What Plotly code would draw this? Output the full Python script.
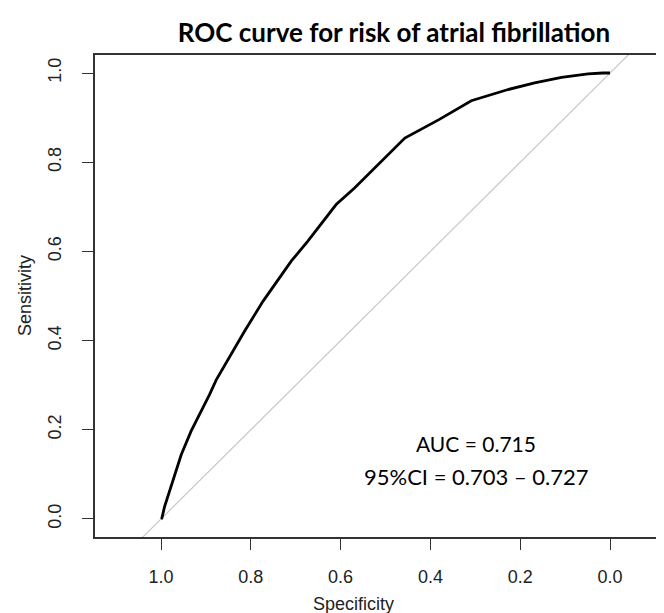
import plotly.graph_objects as go

# ROC curve points
specificity = [1.000, 0.998, 0.992, 0.977, 0.955, 0.933, 0.910, 0.892, 0.877, 0.851,
               0.814, 0.773, 0.747, 0.710, 0.673, 0.639, 0.610, 0.569, 0.524, 0.487,
               0.457, 0.380, 0.309, 0.227, 0.168, 0.108, 0.049, 0.016, 0.000]
sensitivity = [0.000, 0.002, 0.028, 0.077, 0.144, 0.197, 0.241, 0.279, 0.312, 0.357,
               0.421, 0.488, 0.525, 0.578, 0.623, 0.667, 0.705, 0.742, 0.787, 0.824,
               0.854, 0.896, 0.938, 0.963, 0.978, 0.990, 0.998, 1.000, 1.000]

# chance diagonal (sensitivity = 1 - specificity), clipped by the axes
diag_spec = [1.3, -0.3]
diag_sens = [-0.3, 1.3]

x_ticks = [1.0, 0.8, 0.6, 0.4, 0.2, 0.0]
x_ticktext = ["1.0", "0.8", "0.6", "0.4", "0.2", "0.0"]
y_ticks = [0.0, 0.2, 0.4, 0.6, 0.8, 1.0]
y_ticktext = ["0.0", "0.2", "0.4", "0.6", "0.8", "1.0"]

title_text = "ROC curve for risk of atrial fibrillation"
auc_text = "AUC = 0.715"
ci_text = "95%CI = 0.703 \u2013 0.727"

W, H = 664, 613
L, T, B = 87, 47, 84

fig = go.Figure()
fig.add_trace(go.Scatter(x=diag_spec, y=diag_sens, mode="lines",
                         line=dict(color="#c8c8c8", width=1.2),
                         hoverinfo="skip", showlegend=False))
fig.add_trace(go.Scatter(x=specificity, y=sensitivity, mode="lines",
                         line=dict(color="black", width=2.8),
                         showlegend=False))

axis_font = dict(family="Liberation Sans, Arial, sans-serif", size=18, color="#222")

fig.update_layout(
    width=W, height=H,
    margin=dict(l=L, r=0, t=T, b=B, pad=0, autoexpand=False),
    paper_bgcolor="white", plot_bgcolor="white",
    title=dict(text="<b>" + title_text + "</b>", x=(386 / W), xanchor="center",
               y=1 - 25 / H, yanchor="middle",
               font=dict(family="Lato, sans-serif", size=26, color="black")),
    xaxis=dict(range=[1.147, -0.138], tickvals=x_ticks, ticktext=x_ticktext,
               automargin=False,
               showgrid=False, zeroline=False, showline=True, mirror=True,
               linecolor="#333", linewidth=1.5, ticks="outside", ticklen=11,
               tickwidth=1.3, tickcolor="#333", tickfont=axis_font,
               ticklabelstandoff=12),
    yaxis=dict(range=[-0.0404, 1.0404], tickvals=y_ticks, ticktext=y_ticktext,
               automargin=False,
               showgrid=False, zeroline=False, showline=True, mirror=False,
               linecolor="#333", linewidth=1.5, ticks="outside", ticklen=11,
               tickwidth=1.3, tickcolor="#333", tickfont=axis_font,
               tickangle=-90, ticklabelstandoff=14),
    annotations=[
        dict(text="Specificity", xref="paper", yref="paper",
             x=(345 - L) / (W - L), y=-(596 - (H - B)) / (H - T - B),
             xanchor="center", yanchor="middle", showarrow=False,
             font=dict(family="Liberation Sans, Arial, sans-serif", size=18, color="#222")),
        dict(text="Sensitivity", xref="paper", yref="paper",
             x=-(L - 17) / (W - L), y=0.5, textangle=-90,
             xanchor="center", yanchor="middle", showarrow=False,
             font=dict(family="Liberation Sans, Arial, sans-serif", size=18, color="#222")),
        dict(text=auc_text, x=0.298, y=0.170, xref="x", yref="y",
             xanchor="center", yanchor="middle", showarrow=False,
             font=dict(family="Lato, sans-serif", size=21, color="black")),
        dict(text=ci_text, x=0.298, y=0.096, xref="x", yref="y",
             xanchor="center", yanchor="middle", showarrow=False,
             font=dict(family="Lato, sans-serif", size=22, color="black")),
    ],
)

fig.write_html("out.html")
